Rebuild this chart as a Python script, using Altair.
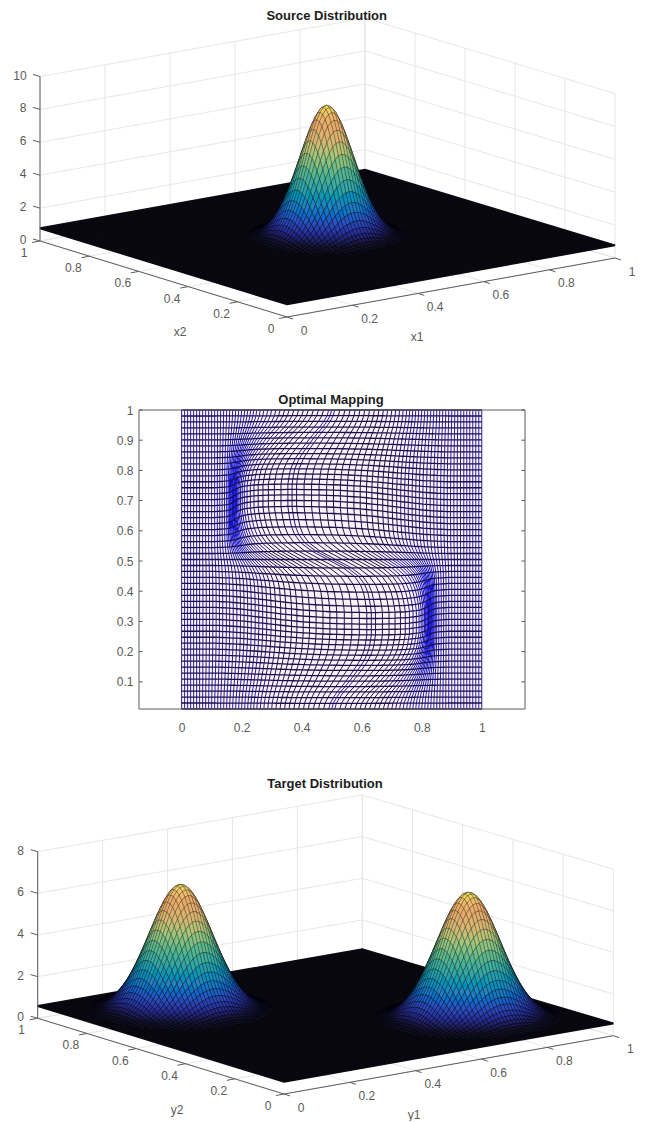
import altair as alt
import pandas as pd

# ---------- values ----------
TICKS_UV = [0, 0.2, 0.4, 0.6, 0.8, 1]
SOURCE_Z_TICKS = [0, 2, 4, 6, 8, 10]
TARGET_Z_TICKS = [0, 2, 4, 6, 8]
MID_Y_TICKS = [0.1, 0.2, 0.3, 0.4, 0.5, 0.6, 0.7, 0.8, 0.9, 1]

# corners of the floor on screen: front, right, left, back
SOURCE_CORNERS = [(287, 317), (615, 258), (40, 241), (365, 182.5)]
TARGET_CORNERS = [(284, 1094), (613.3, 1035.7), (37.7, 1018.3), (362.3, 961.6)]
SOURCE_PX_PER_Z = 16.45
TARGET_PX_PER_Z = 20.83
SOURCE_FLOOR = 0.77
TARGET_FLOOR = 0.59
SOURCE_PEAKS = [(50, 50, 8.78)]
TARGET_PEAKS = [(25, 75, 6.65), (75, 25, 6.69)]

# share of the peak height along a mesh row, one entry per mesh step from the crest
SOURCE_BELL = [1, .989, .955, .902, .832, .750, .661, .570, .480, .395, .317, .249, .191,
               .144, .106, .076, .053, .036, .024, .016, .010, .006, .004]
TARGET_BELL = [1, .992, .968, .929, .877, .814, .744, .669, .591, .514, .440, .370, .306,
               .249, .200, .157, .122, .093, .070, .052, .037, .027, .019, .013, .009, .006]

FRAC_STOPS = [0, .04, .07, .12, .2, .3, .42, .55, .66, .76, .88, .95, 1]
FRAC_COLORS = ['#12111f', '#14132c', '#1e1d5a', '#28309a', '#2a55c4', '#2b82bd', '#35a3a5',
               '#62b98a', '#a5c67e', '#d9b774', '#eba96b', '#ecc26a', '#efe45e']

# mapping panel: resting x of the columns (left half, then the middle one)
COL_X_LEFT = [0, .01, .02, .03, .04, .05, .06, .07, .08, .09, .10, .11, .12, .13, .14, .15, .16, .17,
              .18, .19, .20, .21, .22, .23, .24, .2505, .262, .274, .287, .30, .314, .328, .343, .358,
              .374, .39, .406, .422, .439, .456, .473, .49]
COL_X = COL_X_LEFT + [.5] + [round(1 - v, 4) for v in reversed(COL_X_LEFT)]
# sideways pull of each column
PULL_X = [0, 0, 0, 0, 0, 0, 0, 0, 0, 0, 0, 0, .001, .003, .005, .007, .01, .015, .021, .028, .035, .042, .05,
          .057, .065, .073, .082, .091, .1, .109, .118, .126, .134, .14, .145, .149, .151, .151, .15, .147,
          .142, .136, .132, .127, .119, .111, .103, .095, .088, .081, .074, .068, .062, .056, .052, .047,
          .043, .039, .036, .033, .03, .027, .025, .022, .02, .018, .016, .014, .012, .01, .009, .007, .006,
          .005, .004, .003, .002, .001, 0, 0, 0, 0, 0, 0, 0]
# how strongly each row feels the pull
PULL_ROW = [0] * 22 + [.02, .08, .22, .42, .62, .76, .85, .91, .95, .98, 1, 1, 1, 1, 1, .98, .96, .93,
                       .88, .82, .74, .65, .55, .45, .34, .22, .12, .04, 0]
# vertical spreading of each row from the middle row upward
SPREAD_ROW = [0, .008, .016, .023, .029, .033, .036, .037, .037, .036, .034, .032, .029, .026,
              .023, .02, .017, .014, .011, .009, .007, .005, .003, .002, .001, 0]
# how strongly each column feels it (left half, then the middle one)
SPREAD_COL_LEFT = [0, 0, 0, 0, 0, 0, 0, 0, 0, 0, 0, 0, .02, .035, .05, .075, .1, .125, .15, .185, .22, .26, .3,
                   .34, .38, .42, .47, .52, .58, .63, .68, .73, .78, .82, .86, .9, .93, .95, .97, .98, .99, 1]
SPREAD_COL = SPREAD_COL_LEFT + [1] + list(reversed(SPREAD_COL_LEFT))

FONT = 'Liberation Sans'
GRID = '#e3e3e3'
AXIS = '#5c5c5c'
TEXT = '#5a5a5a'
W = 630


def rule_layer(rows, xs, ys, color, width=1.0):
    return alt.Chart(pd.DataFrame(rows, columns=['x', 'y', 'x2', 'y2'])).mark_rule(
        color=color, strokeWidth=width).encode(
        x=alt.X('x:Q', scale=xs, axis=None), y=alt.Y('y:Q', scale=ys, axis=None),
        x2='x2:Q', y2='y2:Q')


def text_layer(rows, xs, ys, size=12, color=TEXT, weight='normal'):
    return alt.Chart(pd.DataFrame(rows, columns=['x', 'y', 't'])).mark_text(
        font=FONT, fontSize=size, color=color, fontWeight=weight, align='center', baseline='middle').encode(
        x=alt.X('x:Q', scale=xs, axis=None), y=alt.Y('y:Q', scale=ys, axis=None), text='t:N')


def panel(corners, pxz, floor, peaks, bell, zticks, labels, title, title_xy, top, height):
    F, R, L, B = corners

    def P(u, v, z=0.0):
        x = (1-u)*(1-v)*F[0] + u*(1-v)*R[0] + (1-u)*v*L[0] + u*v*B[0]
        y = (1-u)*(1-v)*F[1] + u*(1-v)*R[1] + (1-u)*v*L[1] + u*v*B[1]
        return x, y - z*pxz

    xs = alt.Scale(domain=[8, 8+W], range=[0, W], nice=False, zero=False)
    ys = alt.Scale(domain=[top+height, top], range=[height, 0], nice=False, zero=False)
    ztop = zticks[-1]

    grid = []
    for t in TICKS_UV:
        grid.append((*P(t, 1), *P(t, 1, ztop)))
        grid.append((*P(1, t), *P(1, t, ztop)))
        grid.append((*P(t, 0), *P(t, 1)))
        grid.append((*P(0, t), *P(1, t)))
    for z in zticks:
        grid.append((*P(0, 1, z), *P(1, 1, z)))
        grid.append((*P(1, 1, z), *P(1, 0, z)))

    axes = [(*P(0, 1), *P(0, 1, ztop)), (*P(0, 1), *P(0, 0)), (*P(0, 0), *P(1, 0))]
    for t in TICKS_UV:
        a = P(0, t)
        axes.append((*a, a[0]-8, a[1]+1.5))
        b = P(t, 0)
        axes.append((*b, b[0]+6, b[1]+2))
    for z in zticks:
        a = P(0, 1, z)
        axes.append((*a, a[0]-7, a[1]-2))

    plate = [(k, *P(u, v, floor)) for k, (u, v) in enumerate([(0, 0), (1, 0), (1, 1), (0, 1)])]
    plate_df = pd.DataFrame(plate, columns=['k', 'sx', 'sy'])

    mesh = []
    for i in range(0, 101):
        mesh.append((*P(i/100, 0, floor), *P(i/100, 1, floor)))
        mesh.append((*P(0, i/100, floor), *P(1, i/100, floor)))

    def height_at(i, j):
        z = floor
        for ci, cj, top_z in peaks:
            a, b = abs(i-ci), abs(j-cj)
            if a < len(bell) and b < len(bell):
                z += (top_z-floor)*bell[a]*bell[b]
        return z

    cells = []
    rng = max(p[2] for p in peaks) - floor
    for i in range(100):
        for j in range(100):
            zs = [height_at(i, j), height_at(i+1, j), height_at(i+1, j+1), height_at(i, j+1)]
            frac = sum(zs)/4
            frac = (frac-floor)/rng
            if max(zs) - floor > 0.02*rng:
                cells.append((i+j, i, j, zs, frac))
    cells.sort(key=lambda c: -c[0])
    rows = []
    for n, (_, i, j, zs, frac) in enumerate(cells):
        for k, (a, b) in enumerate([(i, j), (i+1, j), (i+1, j+1), (i, j+1)]):
            rows.append((n, k, *P(a/100, b/100, zs[k]), round(frac, 4)))
    quads = pd.DataFrame(rows, columns=['id', 'k', 'sx', 'sy', 'frac'])

    plate_layer = alt.Chart(plate_df).mark_line(
        fill='#12111f', stroke='#12111f', interpolate='linear-closed').encode(
        x=alt.X('sx:Q', scale=xs, axis=None), y=alt.Y('sy:Q', scale=ys, axis=None), order='k:Q')

    quad_layer = alt.Chart(quads).mark_line(
        stroke='#000000', strokeWidth=0.35, strokeOpacity=0.75, interpolate='linear-closed').encode(
        x=alt.X('sx:Q', scale=xs, axis=None), y=alt.Y('sy:Q', scale=ys, axis=None),
        fill=alt.Fill('frac:Q', scale=alt.Scale(domain=FRAC_STOPS, range=FRAC_COLORS), legend=None),
        detail='id:Q', order='k:Q')

    # tick labels
    texts = []
    for t in TICKS_UV:
        a = P(0, t)
        texts.append((a[0]-16, a[1]+12, f'{t:g}'))
        b = P(t, 0)
        texts.append((b[0]+17, b[1]+13.5, f'{t:g}'))
    for z in zticks:
        a = P(0, 1, z)
        texts.append((a[0]-(20 if z >= 10 else 17), a[1]-1, f'{z:g}'))
    for (x, y, s) in labels:
        texts.append((x, y, s))

    return alt.layer(
        rule_layer(grid, xs, ys, GRID, 0.9),
        plate_layer,
        rule_layer(mesh, xs, ys, '#000000', 0.4),
        quad_layer,
        rule_layer(axes, xs, ys, AXIS, 1.0),
        text_layer(texts, xs, ys),
        text_layer([(*title_xy, title)], xs, ys, size=13, color='#1c1c1c', weight='bold'),
    ).properties(width=W, height=height)


# ---------- mapping panel ----------
NY = 50
NX = len(COL_X) - 1
XMIN, XMAX, YMIN, YMAX = -0.142, 1.144, 0.01, 1.0
xs_mid = alt.Scale(domain=[XMIN, XMAX], range=[131, 517], nice=False, zero=False)
ys_mid = alt.Scale(domain=[YMIN, YMAX], nice=False, zero=False)
x_ax = alt.Axis(values=[0, .2, .4, .6, .8, 1], format='~g', title=None, domain=False, ticks=False,
                grid=False, labelFont=FONT, labelFontSize=12, labelColor=TEXT, labelPadding=13)
y_ax = alt.Axis(values=MID_Y_TICKS, format='~g', title=None, domain=False, ticks=False, grid=False,
                offset=-131, labelFont=FONT, labelFontSize=12, labelColor=TEXT, labelPadding=6)

mesh_pts = {}
for i in range(NX+1):
    for j in range(NY+1):
        dx = -PULL_X[i]*PULL_ROW[j] + PULL_X[NX-i]*PULL_ROW[NY-j]
        sr = SPREAD_ROW[j-25] if j >= 25 else -SPREAD_ROW[25-j]
        dy = SPREAD_COL[i]*sr
        mesh_pts[i, j] = (COL_X[i] + dx, YMIN + (YMAX-YMIN)*j/NY + dy)

h_rows = []
for j in range(NY+1):
    for i in range(NX+1):
        h_rows.append((j, i, *mesh_pts[i, j]))
h_df = pd.DataFrame(h_rows, columns=['line', 'k', 'x', 'y'])
v_rows = []
for i in range(NX+1):
    for j in range(NY):
        a, b = mesh_pts[i, j], mesh_pts[i, j+1]
        nb = []
        if i > 0:
            nb.append(a[0]-mesh_pts[i-1, j][0])
        if i < NX:
            nb.append(mesh_pts[i+1, j][0]-a[0])
        v_rows.append((a[0], a[1], b[0], b[1], min(nb)))
v_df = pd.DataFrame(v_rows, columns=['x', 'y', 'x2', 'y2', 'gap'])

box_rows = [(XMIN, YMIN, XMIN, YMAX), (XMAX, YMIN, XMAX, YMAX), (XMIN, YMAX, XMAX, YMAX), (XMIN, YMIN, XMAX, YMIN)]
for t in MID_Y_TICKS:
    box_rows.append((XMIN, t, XMIN+0.012, t))
    box_rows.append((XMAX, t, XMAX-0.012, t))
box_df = pd.DataFrame(box_rows, columns=['x', 'y', 'x2', 'y2'])

bg = alt.Chart(pd.DataFrame({'x': [0.0], 'x2': [1.0], 'y': [YMIN], 'y2': [YMAX]})).mark_rect(color='#fdf1fb').encode(
    x=alt.X('x:Q', scale=xs_mid, axis=x_ax), x2='x2:Q',
    y=alt.Y('y:Q', scale=ys_mid, axis=y_ax), y2='y2:Q')
v_layer = alt.Chart(v_df).mark_rule(strokeWidth=1.0).encode(
    x=alt.X('x:Q', scale=xs_mid, axis=x_ax), y=alt.Y('y:Q', scale=ys_mid, axis=y_ax),
    x2='x2:Q', y2='y2:Q',
    color=alt.Color('gap:Q', scale=alt.Scale(domain=[0.003, 0.0105, 0.016],
                                             range=['#0808d0', '#2822a0', '#1c1440'], clamp=True), legend=None))
h_layer = alt.Chart(h_df).mark_line(strokeWidth=1.3, color='#1a1048').encode(
    x=alt.X('x:Q', scale=xs_mid, axis=x_ax), y=alt.Y('y:Q', scale=ys_mid, axis=y_ax),
    detail='line:Q', order='k:Q')
box_layer = alt.Chart(box_df).mark_rule(color=AXIS, strokeWidth=1).encode(
    x=alt.X('x:Q', scale=xs_mid, axis=x_ax), y=alt.Y('y:Q', scale=ys_mid, axis=y_ax), x2='x2:Q', y2='y2:Q')
mid = alt.layer(bg, v_layer, h_layer, box_layer).properties(
    width=W, height=299,
    title=alt.TitleParams('Optimal Mapping', font=FONT, fontSize=13, fontWeight='bold', color='#1c1c1c',
                          dx=8, offset=-3))

top_panel = panel(SOURCE_CORNERS, SOURCE_PX_PER_Z, SOURCE_FLOOR, SOURCE_PEAKS, SOURCE_BELL, SOURCE_Z_TICKS,
                  [(180, 332, 'x2'), (417, 337, 'x1')], 'Source Distribution', (326.7, 16), 8, 340)
bottom_panel = panel(TARGET_CORNERS, TARGET_PX_PER_Z, TARGET_FLOOR, TARGET_PEAKS, TARGET_BELL, TARGET_Z_TICKS,
                     [(177, 1110, 'y2'), (414, 1115, 'y1')], 'Target Distribution', (325, 784), 771, 350)

chart = alt.vconcat(top_panel, mid, bottom_panel, spacing=62, bounds='flush').resolve_scale(
    x='independent', y='independent', color='independent', fill='independent'
).properties(padding=0, background='white').configure_view(stroke='transparent', strokeWidth=0)

chart.save("out.html", embed_options={"renderer": "svg", "actions": False})
